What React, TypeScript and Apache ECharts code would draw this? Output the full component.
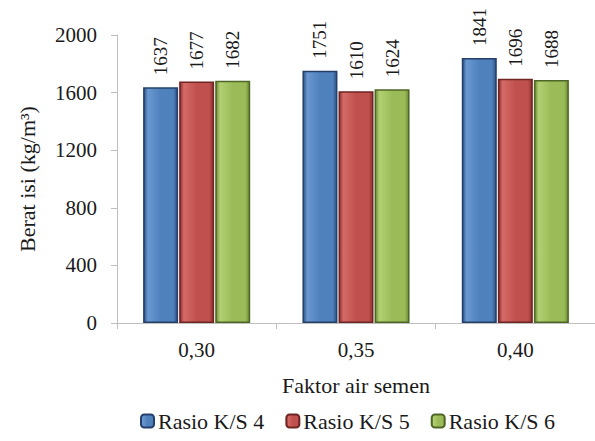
import React, { useEffect, useRef } from "react";
import * as echarts from "echarts";

const categories = ["0,30", "0,35", "0,40"];
const seriesNames = ["Rasio K/S 4", "Rasio K/S 5", "Rasio K/S 6"];
const ks4 = [1637, 1751, 1841];
const ks5 = [1677, 1610, 1696];
const ks6 = [1682, 1624, 1688];
const yTicks = { min: 0, max: 2000, interval: 400 };

const FONT = "Liberation Serif";

const palettes = [
  { dark: "#2d5183", mid: "#4f81bd", light: "#6a98d0", border: "#24406a" },
  { dark: "#8a2f2d", mid: "#c0504d", light: "#d56b68", border: "#6e2523" },
  { dark: "#6a8a33", mid: "#9bbb59", light: "#b2d072", border: "#4e6626" },
];

function grad(p: typeof palettes[0]) {
  return new echarts.graphic.LinearGradient(0, 0, 1, 0, [
    { offset: 0, color: p.dark },
    { offset: 0.12, color: p.light },
    { offset: 0.5, color: p.mid },
    { offset: 0.88, color: p.mid },
    { offset: 1, color: p.dark },
  ]);
}

export default function App() {
  const ref = useRef<HTMLDivElement>(null);
  useEffect(() => {
    if (!ref.current) return;
    const chart = echarts.init(ref.current, undefined, { renderer: "svg" });
    const data = [ks4, ks5, ks6];
    chart.setOption({
      animation: false,
      backgroundColor: "#ffffff",
      grid: { left: 117, top: 35, bottom: 118, right: -10 },
      legend: {
        left: 135,
        top: 405,
        itemWidth: 13,
        itemHeight: 13,
        itemGap: 21,
        textStyle: { fontFamily: FONT, fontSize: 22, color: "#1a1a1a", padding: [0, 0, 0, -1] },
        data: seriesNames,
      },
      xAxis: {
        type: "category",
        data: categories,
        axisLine: { lineStyle: { color: "#bfbfbf", width: 1 } },
        axisTick: { show: true, length: 6, lineStyle: { color: "#bfbfbf" } },
        axisLabel: { fontFamily: FONT, fontSize: 21, color: "#1a1a1a", margin: 16 },
        name: "Faktor air semen",
        nameLocation: "middle",
        nameGap: 51,
        nameTextStyle: { fontFamily: FONT, fontSize: 22, color: "#1a1a1a" },
      },
      yAxis: {
        type: "value",
        min: yTicks.min,
        max: yTicks.max,
        interval: yTicks.interval,
        splitLine: { show: false },
        axisLine: { show: true, lineStyle: { color: "#bfbfbf", width: 1 } },
        axisTick: { show: true, length: 6, lineStyle: { color: "#bfbfbf" } },
        axisLabel: {
          fontFamily: FONT,
          fontSize: 21,
          color: "#1a1a1a",
          margin: 20,
          formatter: (v: number) => String(v),
        },
        name: "Berat isi (kg/m³)",
        nameLocation: "middle",
        nameGap: 79,
        nameRotate: 90,
        nameTextStyle: { fontFamily: FONT, fontSize: 22, color: "#1a1a1a" },
      },
      series: seriesNames.map((name, i) => ({
        name,
        type: "bar",
        data: data[i],
        barWidth: 35,
        barGap: "3%",
        itemStyle: {
          color: grad(palettes[i]),
          borderColor: palettes[i].border,
          borderWidth: 1.5,
        },
        label: {
          show: true,
          position: "top",
          rotate: 90,
          align: "left",
          verticalAlign: "middle",
          distance: 12,
          fontFamily: FONT,
          fontSize: 19,
          color: "#1a1a1a",
        },
      })),
    });
    return () => chart.dispose();
  }, []);
  return (
    <div
      ref={ref}
      style={{ position: "absolute", left: 0, top: 0, width: 595, height: 441 }}
    />
  );
}
